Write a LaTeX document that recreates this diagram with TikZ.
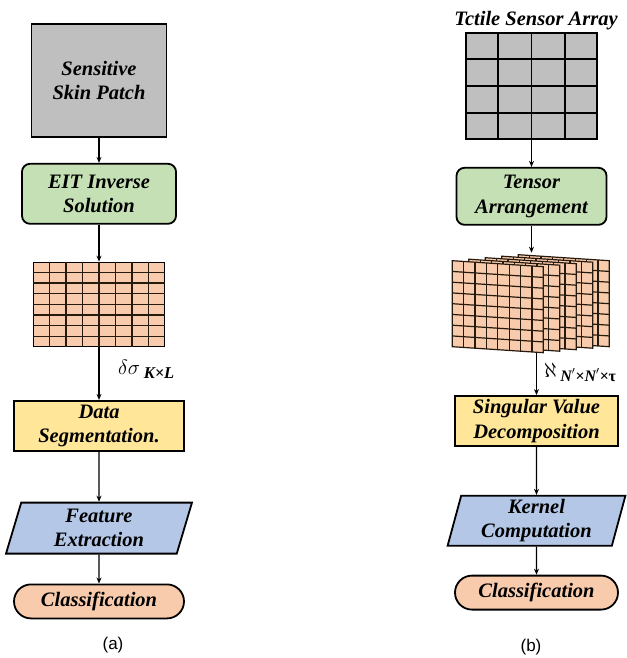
\documentclass[tikz,border=0pt]{standalone}
\usepackage{fontspec}
\setmainfont{Liberation Serif}
\newfontfamily\capfont{Liberation Sans}
\usetikzlibrary{arrows.meta,positioning,shapes.geometric,shapes.misc,calc}
\definecolor{skingray}{RGB}{191,191,191}
\definecolor{solgreen}{RGB}{197,224,180}
\definecolor{segyellow}{RGB}{255,230,153}
\definecolor{featblue}{RGB}{180,199,231}
\definecolor{clspeach}{RGB}{248,203,173}
\tikzset{
  lbl/.style={font=\fontsize{20.5}{24.5}\selectfont\bfseries\itshape, align=center, inner sep=0pt},
  block/.style={lbl, draw, line width=1.8pt},
  slant/.style={trapezium, trapezium left angle=77, trapezium right angle=103, trapezium stretches=true},
  flow/.style={-{Stealth[length=6pt,width=5pt]}, line width=1.4pt},
  cell/.style={draw=black!80!brown, line width=1.2pt},
  sub/.style={font=\capfont\fontsize{17}{19}\selectfont},
}
\begin{document}
\begin{tikzpicture}[x=1pt,y=-1pt]
\useasboundingbox (0,0) rectangle (626,658);
\node[block, fill=skingray, minimum width=135pt, minimum height=113pt] (skin) at (99,80.5) {Sensitive\\Skin Patch};
\node[block, fill=solgreen, rounded corners=8pt, minimum width=154pt, minimum height=60pt, below=25pt of skin] (eit) {EIT Inverse\\Solution};
\node[draw, line width=1.2pt, fill=clspeach, minimum width=131pt, minimum height=84pt, inner sep=0pt, below=37pt of eit] (kmap) {};
\foreach \i in {1,...,7} {
  \draw[cell] ($(kmap.north west)!\i/8!(kmap.north east)$) -- ($(kmap.south west)!\i/8!(kmap.south east)$);
  \draw[cell] ($(kmap.north west)!\i/8!(kmap.south west)$) -- ($(kmap.north east)!\i/8!(kmap.south east)$);
}
\node[block, fill=segyellow, minimum width=170pt, minimum height=50pt, below=53pt of kmap] (seg) {Data\\Segmentation.};
\node[block, slant, fill=featblue, minimum width=186pt, minimum height=51pt, below=50pt of seg] (feat) {Feature\\Extraction};
\node[block, rounded rectangle, fill=clspeach, minimum width=170pt, minimum height=34pt, below=29pt of feat] (cls) {Classification};
\node[anchor=west, inner sep=0pt] (dsig) at (118,369) {\fontsize{21}{21}\selectfont$\delta\sigma$\,\raisebox{-4pt}{\fontsize{16.5}{16.5}\selectfont\bfseries\itshape K×L}};
\node[sub] (capa) at (113,645) {(a)};
\draw[flow] (skin) -- (eit);
\draw[flow] (eit) -- (kmap);
\draw[flow] (kmap) -- (seg);
\draw[flow] (seg) -- (feat);
\draw[flow] (feat) -- (cls);

\node[lbl] (title) at (536,21) {Tctile Sensor Array};
\node[draw, line width=1.8pt, fill=skingray, minimum width=131pt, minimum height=106pt, inner sep=0pt] (sensors) at (531.5,86) {};
\foreach \i in {1,2,3} {
  \draw[line width=1.8pt] ($(sensors.north west)!\i/4!(sensors.north east)$) -- ($(sensors.south west)!\i/4!(sensors.south east)$);
  \draw[line width=1.8pt] ($(sensors.north west)!\i/4!(sensors.south west)$) -- ($(sensors.north east)!\i/4!(sensors.south east)$);
}
\node[block, fill=solgreen, rounded corners=8pt, minimum width=150pt, minimum height=57pt, below=27pt of sensors] (tens) {Tensor\\Arrangement};
\node[minimum width=158pt, minimum height=100pt, inner sep=0pt, below=27pt of tens] (stack) {};
\begin{scope}[shift={(stack.north west)}]
\foreach \k in {0,...,4} {
  \pgfmathsetmacro\xa{66-16.5*\k}
  \pgfmathsetmacro\ya{2+1.5*\k}
  \filldraw[cell, fill=clspeach] (\xa,\ya) -- ++(91,6) -- ++(0,86) -- ++(-91,-6) -- cycle;
  \foreach \i in {1,...,7} {
    \draw[cell] (\xa+\i*91/8,\ya+\i*6/8) -- ++(0,86);
    \draw[cell] (\xa,\ya+\i*86/8) -- ++(91,6);
  }
}
\end{scope}
\node[block, fill=segyellow, minimum width=163pt, minimum height=50pt, below=42pt of stack, xshift=5pt] (svd) {Singular Value\\Decomposition};
\node[block, slant, fill=featblue, minimum width=178pt, minimum height=50pt, below=48pt of svd] (kern) {Kernel\\Computation};
\node[block, rounded rectangle, fill=clspeach, minimum width=163pt, minimum height=34pt, below=28pt of kern] (cls2) {Classification};
\node[anchor=west, inner sep=0pt] (alef) at (544,372) {\fontsize{21}{21}\selectfont$\aleph$\,\raisebox{-4pt}{\fontsize{16}{16}\selectfont\bfseries\itshape N$'$×N$'$×\upshape τ}};
\node[sub] (capb) at (531,647) {(b)};
\draw[flow] (sensors) -- (tens);
\draw[flow] (tens) -- (stack.north);
\draw[flow] (stack.south -| svd) -- (svd);
\draw[flow] (svd) -- (kern);
\draw[flow] (kern) -- (cls2);
\end{tikzpicture}
\end{document}
